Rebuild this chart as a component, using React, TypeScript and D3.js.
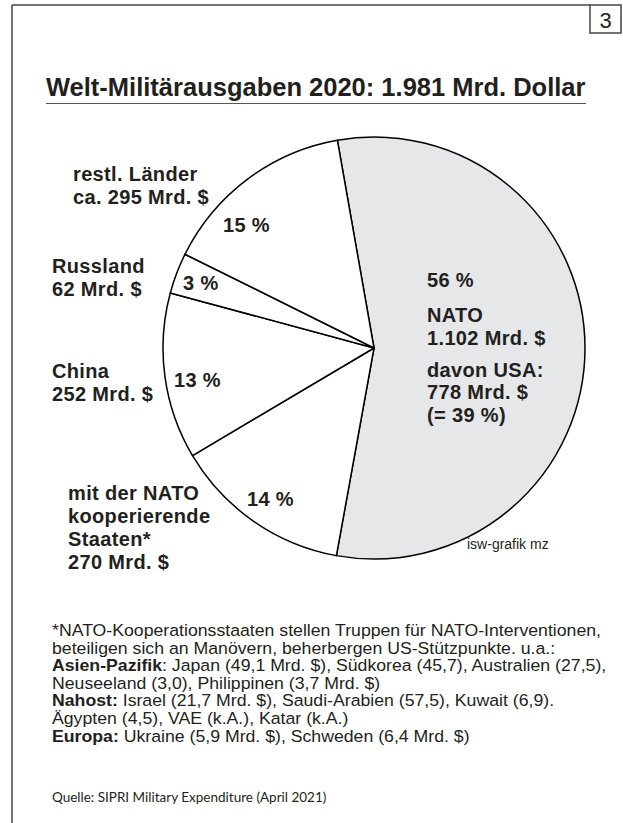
import React from "react";
import * as d3 from "d3";

const categories = ["NATO", "mit der NATO kooperierende Staaten", "China", "Russland", "restl. Länder"];
const values = [1102, 270, 252, 62, 295];
const percents = ["56 %", "14 %", "13 %", "3 %", "15 %"];
const fills = ["#e6e7e8", "#ffffff", "#ffffff", "#ffffff", "#ffffff"];

const titleText = "Welt-Militärausgaben 2020: 1.981 Mrd. Dollar";

const footLines: { bold: string; rest: string }[] = [
  { bold: "", rest: "*NATO-Kooperationsstaaten stellen Truppen für NATO-Interventionen," },
  { bold: "", rest: "beteiligen sich an Manövern, beherbergen US-Stützpunkte. u.a.:" },
  { bold: "Asien-Pazifik", rest: ": Japan (49,1 Mrd. $), Südkorea (45,7), Australien (27,5)," },
  { bold: "", rest: "Neuseeland (3,0), Philippinen (3,7 Mrd. $)" },
  { bold: "Nahost:", rest: " Israel (21,7 Mrd. $), Saudi-Arabien (57,5), Kuwait (6,9)." },
  { bold: "", rest: "Ägypten (4,5), VAE (k.A.), Katar (k.A.)" },
  { bold: "Europa:", rest: " Ukraine (5,9 Mrd. $), Schweden (6,4 Mrd. $)" },
];

const W = 623;
const H = 823;
const INK = "#231f20";
const FONT = "'Liberation Sans', Arial, Helvetica, sans-serif";

export default function App() {
  const cx = 374;
  const cy = 348;
  const r = 211;
  const start = (-10 * Math.PI) / 180;
  const pie = d3
    .pie<number>()
    .sort(null)
    .value((d) => d)
    .startAngle(start)
    .endAngle(start + 2 * Math.PI);
  const arcs = pie(values);
  const arc = d3.arc<d3.PieArcDatum<number>>().innerRadius(0).outerRadius(r);

  const lab = { fontFamily: FONT, fontWeight: 700, fontSize: 20, fill: INK, letterSpacing: 0.35 } as const;

  return (
    <svg width={W} height={H} style={{ position: "absolute", left: 0, top: 0, background: "#fff" }}>
      {/* frame */}
      <line x1={12} y1={5} x2={590} y2={5} stroke="#444" strokeWidth={1.5} />
      <line x1={12} y1={5} x2={12} y2={H} stroke="#444" strokeWidth={1.5} />
      <rect x={590} y={5} width={31} height={28} fill="none" stroke="#444" strokeWidth={1.5} />
      <text x={605.5} y={28} textAnchor="middle" fontFamily={FONT} fontSize={22} fill={INK}>3</text>

      {/* title */}
      <text x={46} y={96} fontFamily={FONT} fontWeight={700} fontSize={25.5} fill={INK}>{titleText}</text>
      <line x1={46} y1={103.5} x2={586} y2={103.5} stroke="#555" strokeWidth={1.2} />

      {/* pie */}
      <g transform={`translate(${cx},${cy})`}>
        {arcs.map((a, i) => (
          <path key={categories[i]} d={arc(a) || ""} fill={fills[i]} stroke="#000" strokeWidth={1.5} strokeLinejoin="round" />
        ))}
      </g>

      {/* percent labels */}
      <text {...lab} x={427} y={287}>{percents[0]}</text>
      <text {...lab} x={247} y={506}>{percents[1]}</text>
      <text {...lab} x={174} y={387}>{percents[2]}</text>
      <text {...lab} x={183} y={290}>{percents[3]}</text>
      <text {...lab} x={223} y={232}>{percents[4]}</text>

      {/* NATO text */}
      <text {...lab} x={427}>
        <tspan x={427} y={322}>NATO</tspan>
        <tspan x={427} y={345}>1.102 Mrd. $</tspan>
        <tspan x={427} y={377}>davon USA:</tspan>
        <tspan x={427} y={399}>778 Mrd. $</tspan>
        <tspan x={427} y={422}>(= 39 %)</tspan>
      </text>

      {/* category labels */}
      <text {...lab}>
        <tspan x={73} y={181}>restl. Länder</tspan>
        <tspan x={73} y={204}>ca. 295 Mrd. $</tspan>
      </text>
      <text {...lab}>
        <tspan x={52} y={273}>Russland</tspan>
        <tspan x={52} y={296}>62 Mrd. $</tspan>
      </text>
      <text {...lab}>
        <tspan x={52} y={378}>China</tspan>
        <tspan x={52} y={401}>252 Mrd. $</tspan>
      </text>
      <text {...lab}>
        <tspan x={68} y={500}>mit der NATO</tspan>
        <tspan x={68} y={523}>kooperierende</tspan>
        <tspan x={68} y={546}>Staaten*</tspan>
        <tspan x={68} y={569}>270 Mrd. $</tspan>
      </text>

      <text x={467} y={549} fontFamily={FONT} fontSize={14} fill={INK}>isw-grafik mz</text>

      {/* footnote */}
      <g transform="translate(52,0) scale(1.085,1)">
        {footLines.map((l, i) => (
          <text key={i} x={0} y={636 + i * 17.6} fontFamily={FONT} fontSize={16.3} fill={INK}>
            {l.bold && <tspan fontWeight={700}>{l.bold}</tspan>}
            <tspan>{l.rest}</tspan>
          </text>
        ))}
      </g>

      <text x={52} y={802} fontFamily="Lato, 'Open Sans', sans-serif" fontSize={13.5} fill={INK}>
        Quelle: SIPRI Military Expenditure (April 2021)
      </text>
    </svg>
  );
}
